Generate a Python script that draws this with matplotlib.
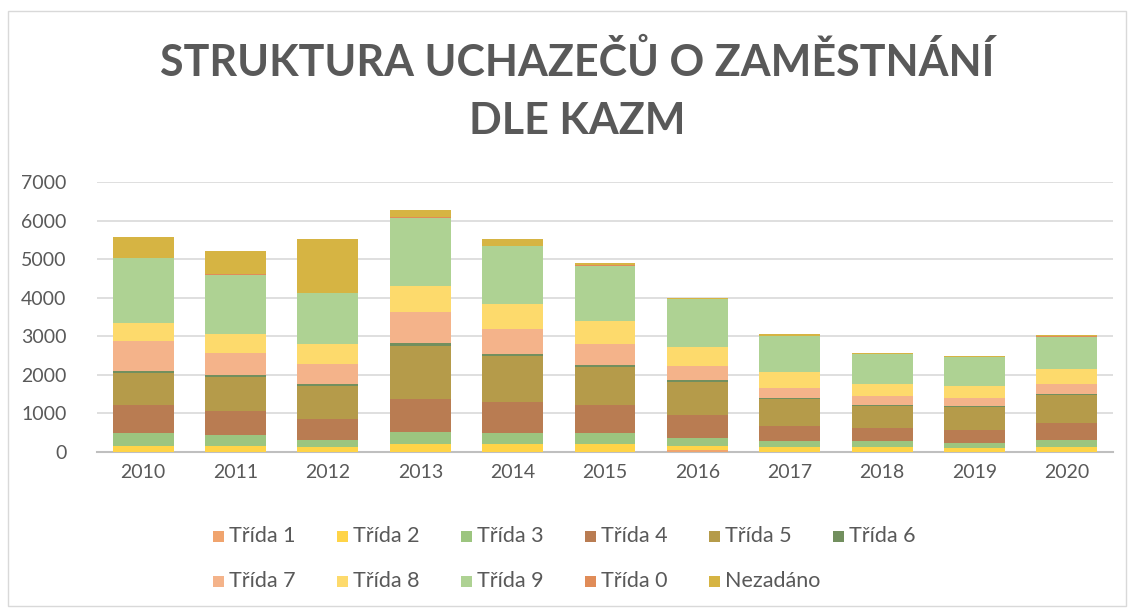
"""
  Struktura uchazecu o zamestnani dle KAZM - stacked bar chart.
"""

import matplotlib.pyplot as plt
import matplotlib.patches as patches

plt.rcParams['font.family'] = ['Lato', 'DejaVu Sans']

YEARS = ['2010', '2011', '2012', '2013', '2014', '2015',
         '2016', '2017', '2018', '2019', '2020']

# values, bottom -> top
TRIDA_1 = [10, 10, 10, 10, 10, 10, 60, 10, 10, 10, 10]
TRIDA_2 = [138, 138, 112, 207, 207, 190, 104, 112, 120, 94, 129]
TRIDA_3 = [348, 304, 200, 305, 279, 296, 200, 165, 157, 139, 183]
TRIDA_4 = [730, 609, 530, 843, 808, 730, 592, 391, 330, 322, 435]
TRIDA_5 = [826, 896, 870, 1383, 1174, 983, 869, 687, 574, 600, 721]
TRIDA_6 = [52, 52, 43, 69, 70, 52, 35, 26, 26, 26, 26]
TRIDA_7 = [766, 565, 522, 809, 652, 530, 382, 279, 235, 209, 261]
TRIDA_8 = [478, 496, 522, 678, 635, 618, 487, 400, 305, 313, 383]
TRIDA_9 = [1669, 1530, 1313, 1774, 1504, 1426, 1227, 939, 782, 748, 843]
TRIDA_0 = [10, 10, 10, 10, 10, 10, 10, 10, 10, 10, 10]
NEZADANO = [548, 590, 1400, 192, 174, 52, 33, 33, 16, 16, 34]

SERIES = [
    ("Třída 1", TRIDA_1, "#F0A46E"),
    ("Třída 2", TRIDA_2, "#FFD447"),
    ("Třída 3", TRIDA_3, "#9CC57F"),
    ("Třída 4", TRIDA_4, "#B97C52"),
    ("Třída 5", TRIDA_5, "#B59B4A"),
    ("Třída 6", TRIDA_6, "#728F5E"),
    ("Třída 7", TRIDA_7, "#F4B38A"),
    ("Třída 8", TRIDA_8, "#FDDA6C"),
    ("Třída 9", TRIDA_9, "#AED293"),
    ("Třída 0", TRIDA_0, "#E08C58"),
    ("Nezadáno", NEZADANO, "#D6B443"),
]

W, H = 1131, 610
fig = plt.figure(figsize=(W / 100, H / 100), dpi=100)
ax = fig.add_axes([97 / W, 1 - 452 / H, 1016 / W, 270 / H])

x = range(len(YEARS))
bottom = [0] * len(YEARS)
for name, vals, color in SERIES:
    ax.bar(x, vals, width=0.66, bottom=bottom, color=color,
           linewidth=0, zorder=3, label=name)
    bottom = [b + v for b, v in zip(bottom, vals)]

ax.set_xlim(-0.5, len(YEARS) - 0.5)
ax.set_ylim(0, 7000)
ax.set_yticks(range(0, 7001, 1000))
ax.set_xticks(list(x))
ax.set_xticklabels(YEARS)
ax.tick_params(length=0, labelsize=14, colors='#595959', pad=9)
ax.tick_params(axis='y', pad=22)
ax.grid(axis='y', color='#D9D9D9', lw=1.2, zorder=0)
for side in ['left', 'right', 'top']:
    ax.spines[side].set_visible(False)
ax.spines['bottom'].set_color('#BFBFBF')
ax.spines['bottom'].set_linewidth(1.5)

fig.text(577 / W, 1 - 62 / H, 'STRUKTURA UCHAZEČŮ O ZAMĚSTNÁNÍ',
         ha='center', va='center', fontsize=31, fontweight='bold',
         color='#595959')
fig.text(577 / W, 1 - 121 / H, 'DLE KAZM',
         ha='center', va='center', fontsize=31, fontweight='bold',
         color='#595959')

# legend drawn by hand: Excel uses equal-width columns
for i, (name, vals, color) in enumerate(SERIES):
    col, row = i % 6, i // 6
    lx = (213 + col * 124) / W
    ly = 1 - (536 + row * 45) / H
    fig.add_artist(patches.Rectangle((lx, ly - 5.5 / H), 11 / W, 11 / H,
                                     transform=fig.transFigure,
                                     fc=color, ec='none'))
    fig.text(lx + 16 / W, ly, name, ha='left', va='center',
             fontsize=15.5, color='#595959')

fig.add_artist(patches.Rectangle((8 / W, 4 / H), 1118 / W, 1 - 15 / H,
                                 transform=fig.transFigure, fill=False,
                                 ec='#D9D9D9', lw=1))

fig.savefig('out.png', dpi=100)
